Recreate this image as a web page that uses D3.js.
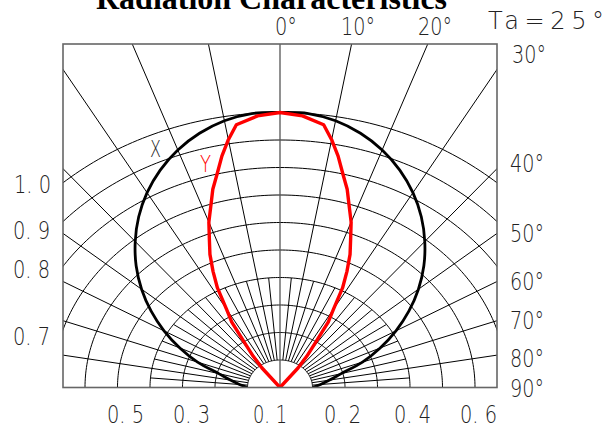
<!DOCTYPE html>
<html>
<head>
<meta charset="utf-8">
<script src="https://cdn.jsdelivr.net/npm/d3@7"></script>
<style>
  html, body { margin: 0; padding: 0; background: #fff; }
  svg { display: block; }
  .lbl { font-family: "DejaVu Sans", sans-serif; font-weight: 200; fill: #222; }
</style>
</head>
<body>
<svg id="chart" width="614" height="429"></svg>
<script>
// ---------------- data ----------------
const title = "Radiation Characteristics";
const condition = "Ta=25°";
const arcLevels = [0.1, 0.2, 0.3, 0.4, 0.5, 0.6, 0.7, 0.8, 0.9, 1.0];
const majorRayAngles = [-80, -70, -60, -50, -40, -30, -20, -10, 10, 20, 30, 40, 50, 60, 70, 80];
const minorRayAngles = [-85, -75, -65, -55, -45, -35, -25, -15, -5, 5, 15, 25, 35, 45, 55, 65, 75, 85];
const leftTickLabels = ["1. 0", "0. 9", "0. 8", "0. 7"];
const bottomTickLabels = ["0. 5", "0. 3", "0. 1", "0. 2", "0. 4", "0. 6"];
const angleLabels = ["0°", "10°", "20°", "30°", "40°", "50°", "60°", "70°", "80°", "90°"];

// X direction (black)
const xAngles = [-90, -85, -80, -75, -70, -65, -60, -55, -50, -45, -40, -35, -30, -25, -20, -15, -10, -5, 0,
                 5, 10, 15, 20, 25, 30, 35, 40, 45, 50, 55, 60, 65, 70, 75, 80, 85, 90];
const xValues = [0.10, 0.125, 0.155, 0.195, 0.27, 0.34, 0.412, 0.484, 0.556, 0.626, 0.693, 0.758, 0.818, 0.872, 0.919, 0.957, 0.985, 1.00, 1.00,
                 1.00, 0.985, 0.957, 0.919, 0.872, 0.818, 0.758, 0.693, 0.626, 0.556, 0.484, 0.412, 0.34, 0.27, 0.195, 0.155, 0.125, 0.10];

// Y direction (red)
const yAngles = [-40, -38, -36, -34, -32, -30, -28, -26, -24, -22, -20, -18, -16, -14, -12, -10, -8, -4, 0,
                 4, 8, 10, 12, 14, 16, 18, 20, 22, 24, 26, 28, 30, 32, 34, 36, 38, 40];
const yValues = [0.00, 0.09, 0.14, 0.19, 0.28, 0.33, 0.41, 0.47, 0.53, 0.58, 0.64, 0.69, 0.75, 0.80, 0.86, 0.915, 0.965, 0.99, 1.00,
                 0.99, 0.965, 0.915, 0.86, 0.80, 0.75, 0.69, 0.64, 0.58, 0.53, 0.47, 0.41, 0.33, 0.28, 0.19, 0.14, 0.09, 0.00];

// ---------------- layout ----------------
const box = { left: 63, right: 497, top: 44, bottom: 387.5 };
const cx = 280, cy = 387.5;

const svg = d3.select("#chart");

const rX = d3.scaleLinear().domain([0, 1]).range([0, 325]);
const rY = d3.scaleLinear().domain([0, 1]).range([0, 275]);
const ang = d3.scaleLinear().domain([0, 180]).range([0, Math.PI]);

function pt(deg, v) {
  const a = ang(deg);
  return [cx + rX(v) * Math.sin(a), cy - rY(v) * Math.cos(a)];
}

svg.append("defs").append("clipPath").attr("id", "clip")
  .append("rect")
  .attr("x", box.left).attr("y", box.top)
  .attr("width", box.right - box.left).attr("height", box.bottom - box.top);

const grid = svg.append("g").attr("clip-path", "url(#clip)");

// arcs
const arcAngles = d3.range(-90, 90.5, 1);
const arcLine = d3.line();
grid.selectAll("path.arc").data(arcLevels).join("path")
  .attr("class", "arc")
  .attr("d", lv => arcLine(arcAngles.map(a => pt(a, lv))))
  .attr("fill", "none").attr("stroke", "#000").attr("stroke-width", 1);

// major rays
grid.selectAll("line.major").data(majorRayAngles).join("line")
  .attr("class", "major")
  .attr("x1", a => pt(a, 0.1)[0]).attr("y1", a => pt(a, 0.1)[1])
  .attr("x2", a => pt(a, 3)[0]).attr("y2", a => pt(a, 3)[1])
  .attr("stroke", "#000").attr("stroke-width", 1);

// minor rays
grid.selectAll("line.minor").data(minorRayAngles).join("line")
  .attr("class", "minor")
  .attr("x1", a => pt(a, 0.1)[0]).attr("y1", a => pt(a, 0.1)[1])
  .attr("x2", a => pt(a, 0.4)[0]).attr("y2", a => pt(a, 0.4)[1])
  .attr("stroke", "#000").attr("stroke-width", 1);

// center ray
grid.append("line")
  .attr("x1", pt(0, 0)[0]).attr("y1", pt(0, 0)[1])
  .attr("x2", pt(0, 3)[0]).attr("y2", pt(0, 3)[1])
  .attr("stroke", "#555").attr("stroke-width", 1.3);

// curves
const xPts = xAngles.map((a, i) => pt(a, xValues[i]));
grid.append("path")
  .attr("d", d3.line().curve(d3.curveCatmullRom)(xPts))
  .attr("fill", "none").attr("stroke", "#000").attr("stroke-width", 2.8);

const yPts = yAngles.map((a, i) => pt(a, yValues[i]));
grid.append("path")
  .attr("d", d3.line().curve(d3.curveLinear)(yPts))
  .attr("fill", "none").attr("stroke", "#ff0000").attr("stroke-width", 3.4)
  .attr("stroke-linejoin", "round");

// frame
svg.append("rect")
  .attr("x", box.left).attr("y", box.top)
  .attr("width", box.right - box.left).attr("height", box.bottom - box.top)
  .attr("fill", "none").attr("stroke", "#666").attr("stroke-width", 1.6);

// ---------------- text ----------------
svg.append("text")
  .attr("x", 271.5).attr("y", 9)
  .attr("text-anchor", "middle")
  .style("font-family", "'Liberation Serif', 'Times New Roman', serif")
  .style("font-weight", "bold").style("font-size", "32px")
  .attr("fill", "#000")
  .text(title);

svg.append("text").attr("class", "lbl")
  .attr("x", 488).attr("y", 29)
  .attr("textLength", 116).attr("lengthAdjust", "spacing")
  .style("font-size", "24px")
  .text(condition);

const leftPos = [[14, 193], [13, 239], [13, 278], [13, 345]];
svg.selectAll("text.left").data(leftTickLabels).join("text")
  .attr("class", "lbl left")
  .attr("x", (d, i) => leftPos[i][0]).attr("y", (d, i) => leftPos[i][1])
  .attr("textLength", 37).attr("lengthAdjust", "spacingAndGlyphs")
  .style("font-size", "24px")
  .text(d => d);

const bottomPos = [107, 173, 253, 324, 394, 460];
svg.selectAll("text.bottom").data(bottomTickLabels).join("text")
  .attr("class", "lbl bottom")
  .attr("x", (d, i) => bottomPos[i]).attr("y", 423)
  .attr("textLength", (d, i) => i === 2 ? 34 : 37).attr("lengthAdjust", "spacingAndGlyphs")
  .style("font-size", "24px")
  .text(d => d);

const anglePos = [[275, 35], [341, 35], [418, 35], [512, 63], [510, 172], [510, 242], [510, 290], [510, 329], [510, 367], [510, 397]];
svg.selectAll("text.angle").data(angleLabels).join("text")
  .attr("class", "lbl angle")
  .attr("x", (d, i) => anglePos[i][0]).attr("y", (d, i) => anglePos[i][1])
  .attr("textLength", (d, i) => i === 0 ? 22 : 34).attr("lengthAdjust", "spacingAndGlyphs")
  .style("font-size", "24px")
  .text(d => d);

svg.append("text").attr("class", "lbl")
  .attr("x", 150).attr("y", 157).attr("textLength", 11).attr("lengthAdjust", "spacingAndGlyphs")
  .style("font-size", "23px").text("X");
svg.append("text").attr("class", "lbl")
  .attr("x", 200).attr("y", 172).attr("textLength", 11).attr("lengthAdjust", "spacingAndGlyphs")
  .style("font-size", "23px").style("fill", "#ff0000").text("Y");
</script>
</body>
</html>
